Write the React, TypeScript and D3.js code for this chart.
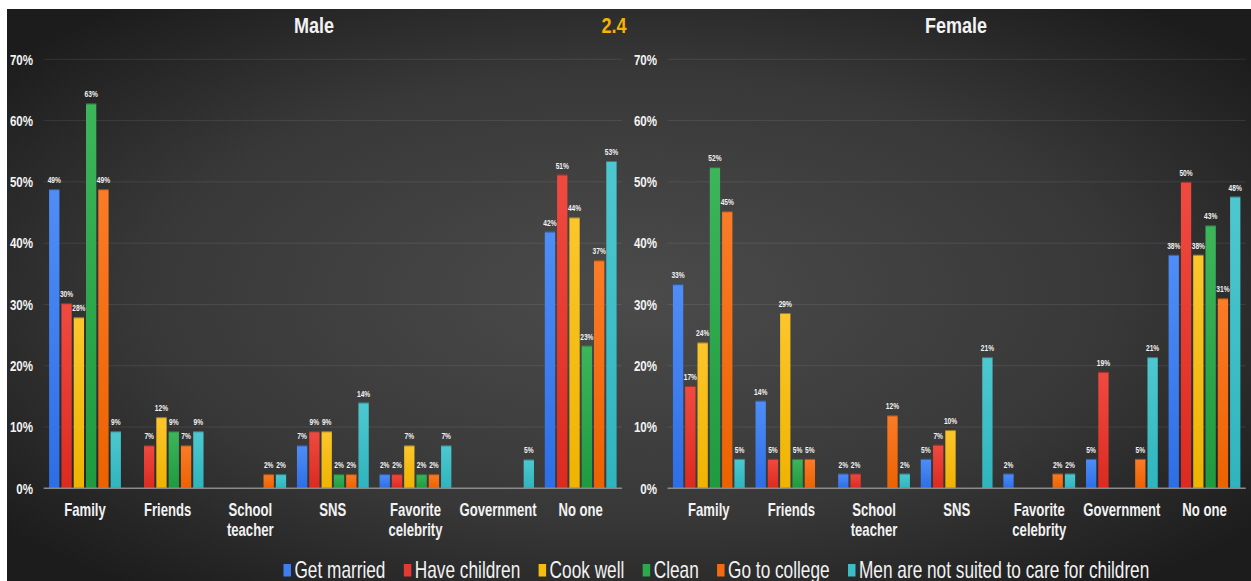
import React from 'react';
import * as d3 from 'd3';

const categories = ['Family', 'Friends', 'School teacher', 'SNS', 'Favorite celebrity', 'Government', 'No one'];
const categoryLines = [['Family'], ['Friends'], ['School', 'teacher'], ['SNS'], ['Favorite', 'celebrity'], ['Government'], ['No one']];
const seriesNames = ['Get married', 'Have children', 'Cook well', 'Clean', 'Go to college', 'Men are not suited to care for children'];
const seriesTop = ['#4f8ef7', '#f04a40', '#fcc62c', '#3db55b', '#fb7b27', '#4ec8d0'];
const seriesBottom = ['#2d6ee6', '#dc2a20', '#efb300', '#1f9a3f', '#ec6200', '#2fb4bd'];
const seriesSwatch = ['#3d7ef0', '#e53a30', '#f7bd0e', '#2da84c', '#f36a12', '#3cbcc6'];
const yTicks = [0, 10, 20, 30, 40, 50, 60, 70];

const maleGetMarried = [48.8, 0, 0, 7.0, 2.3, 0, 41.9];
const maleHaveChildren = [30.2, 7.0, 0, 9.3, 2.3, 0, 51.2];
const maleCookWell = [27.9, 11.6, 0, 9.3, 7.0, 0, 44.2];
const maleClean = [62.8, 9.3, 0, 2.3, 2.3, 0, 23.3];
const maleGoToCollege = [48.8, 7.0, 2.3, 2.3, 2.3, 0, 37.2];
const maleMenNotSuited = [9.3, 9.3, 2.3, 14.0, 7.0, 4.7, 53.4];

const femaleGetMarried = [33.3, 14.3, 2.4, 4.8, 2.4, 4.8, 38.1];
const femaleHaveChildren = [16.7, 4.8, 2.4, 7.1, 0, 19.0, 50.0];
const femaleCookWell = [23.8, 28.6, 0, 9.5, 0, 0, 38.1];
const femaleClean = [52.4, 4.8, 0, 0, 0, 0, 42.9];
const femaleGoToCollege = [45.2, 4.8, 11.9, 0, 2.4, 4.8, 31.0];
const femaleMenNotSuited = [4.8, 0, 2.4, 21.4, 2.4, 21.4, 47.6];

const maleSeries = [maleGetMarried, maleHaveChildren, maleCookWell, maleClean, maleGoToCollege, maleMenNotSuited];
const femaleSeries = [femaleGetMarried, femaleHaveChildren, femaleCookWell, femaleClean, femaleGoToCollege, femaleMenNotSuited];

const W = 1251;
const H = 581;
const FONT = "'Liberation Sans', Arial, sans-serif";

const yScale = d3.scaleLinear().domain([0, 70]).range([488.3, 59.3]);

function NText(props: { x: number; y: number; anchor?: string; size: number; sx?: number; weight?: string | number; fill?: string; children: React.ReactNode }) {
  const { x, y, anchor = 'middle', size, sx = 0.82, weight = 'bold', fill = '#f2f2f2', children } = props;
  return (
    <g transform={`translate(${x},${y}) scale(${sx},1)`}>
      <text textAnchor={anchor as any} fontFamily={FONT} fontSize={size} fontWeight={weight} fill={fill}>
        {children}
      </text>
    </g>
  );
}

function Panel(props: { x0: number; x1: number; labelRight: number; series: number[][]; title: string; titleX: number }) {
  const { x0, x1, labelRight, series, title, titleX } = props;
  const xBand = d3.scaleBand<string>().domain(categories).range([x0, x1]).paddingInner(0).paddingOuter(0);
  const inner = d3.scaleBand<string>().domain(seriesNames).range([0, xBand.bandwidth()]).paddingInner(0.163).paddingOuter(0.44);
  const y0 = yScale(0);
  return (
    <g>
      <NText x={titleX} y={33} size={22}>{title}</NText>
      {yTicks.map((t) => (
        <g key={t}>
          {t > 0 && (
            <line x1={x0} x2={x1} y1={yScale(t)} y2={yScale(t)} stroke="rgba(255,255,255,0.09)" strokeWidth={1} />
          )}
          <NText x={labelRight} y={yScale(t) + 5.3} anchor="end" size={15} sx={0.77}>{`${t}%`}</NText>
        </g>
      ))}
      {series.map((vals, si) =>
        vals.map((v, ci) => {
          if (v <= 0) return null;
          const bx = (xBand(categories[ci]) as number) + (inner(seriesNames[si]) as number);
          const bw = inner.bandwidth();
          const by = yScale(v);
          return (
            <g key={`${si}-${ci}`}>
              <rect x={bx} y={by} width={bw} height={y0 - by} fill={`url(#grad${si})`} />
              <line x1={bx} x2={bx + bw} y1={by + 0.5} y2={by + 0.5} stroke="rgba(0,0,0,0.35)" strokeWidth={1} />
              <NText x={bx + bw / 2} y={by - 6} size={8.5} sx={0.78}>{`${Math.round(v)}%`}</NText>
            </g>
          );
        })
      )}
      <line x1={x0} x2={x1} y1={y0} y2={y0} stroke="#8a8a8a" strokeWidth={1.5} />
      {categories.map((c, ci) => {
        const cx = (xBand(c) as number) + xBand.bandwidth() / 2;
        return (
          <g key={c}>
            {categoryLines[ci].map((ln, li) => (
              <NText key={li} x={cx} y={516 + li * 20} size={17.5} sx={0.75}>{ln}</NText>
            ))}
          </g>
        );
      })}
    </g>
  );
}

function measure(text: string, font: string): number {
  if (typeof document === 'undefined') return text.length * 8;
  const c = document.createElement('canvas');
  const ctx = c.getContext('2d');
  if (!ctx) return text.length * 8;
  ctx.font = font;
  return ctx.measureText(text).width;
}

function Legend() {
  const size = 23;
  const sx = 0.75;
  const font = `${size}px ${FONT}`;
  const sqW = 7.5;
  const sqGap = 3.5;
  const itemGap = 18.3;
  const widths = seriesNames.map((s) => measure(s, font) * sx);
  const itemW = widths.map((w) => sqW + sqGap + w);
  const total = d3.sum(itemW) + itemGap * (seriesNames.length - 1);
  const cx = 716.5;
  let x = cx - total / 2;
  const items = seriesNames.map((s, i) => {
    const ix = x;
    x += itemW[i] + itemGap;
    return { s, i, ix };
  });
  return (
    <g>
      {items.map(({ s, i, ix }) => (
        <g key={s}>
          <rect x={ix} y={564} width={sqW} height={12.5} fill={seriesSwatch[i]} />
          <NText x={ix + sqW + sqGap} y={577.7} anchor="start" size={size} sx={sx} weight="normal" fill="#f2f2f2">{s}</NText>
        </g>
      ))}
    </g>
  );
}

export default function App() {
  return (
    <svg width={W} height={H} style={{ position: 'absolute', left: 0, top: 0, display: 'block' }}>
      <defs>
        <radialGradient id="bg" cx="50%" cy="50%" r="65%">
          <stop offset="0%" stopColor="#4b4b4b" />
          <stop offset="60%" stopColor="#383838" />
          <stop offset="100%" stopColor="#1c1c1c" />
        </radialGradient>
        {seriesNames.map((s, i) => (
          <linearGradient key={s} id={`grad${i}`} x1="0" y1="0" x2="0" y2="1">
            <stop offset="0%" stopColor={seriesTop[i]} />
            <stop offset="100%" stopColor={seriesBottom[i]} />
          </linearGradient>
        ))}
      </defs>
      <rect x={0} y={0} width={W} height={H} fill="#ffffff" />
      <rect x={7} y={9} width={W - 7} height={H - 9} fill="url(#bg)" />
      <Panel x0={43.7} x1={622} labelRight={33} series={maleSeries} title="Male" titleX={314} />
      <Panel x0={667.5} x1={1245.8} labelRight={657} series={femaleSeries} title="Female" titleX={956} />
      <NText x={614} y={33} size={22} fill="#f5b400">2.4</NText>
      <Legend />
    </svg>
  );
}
